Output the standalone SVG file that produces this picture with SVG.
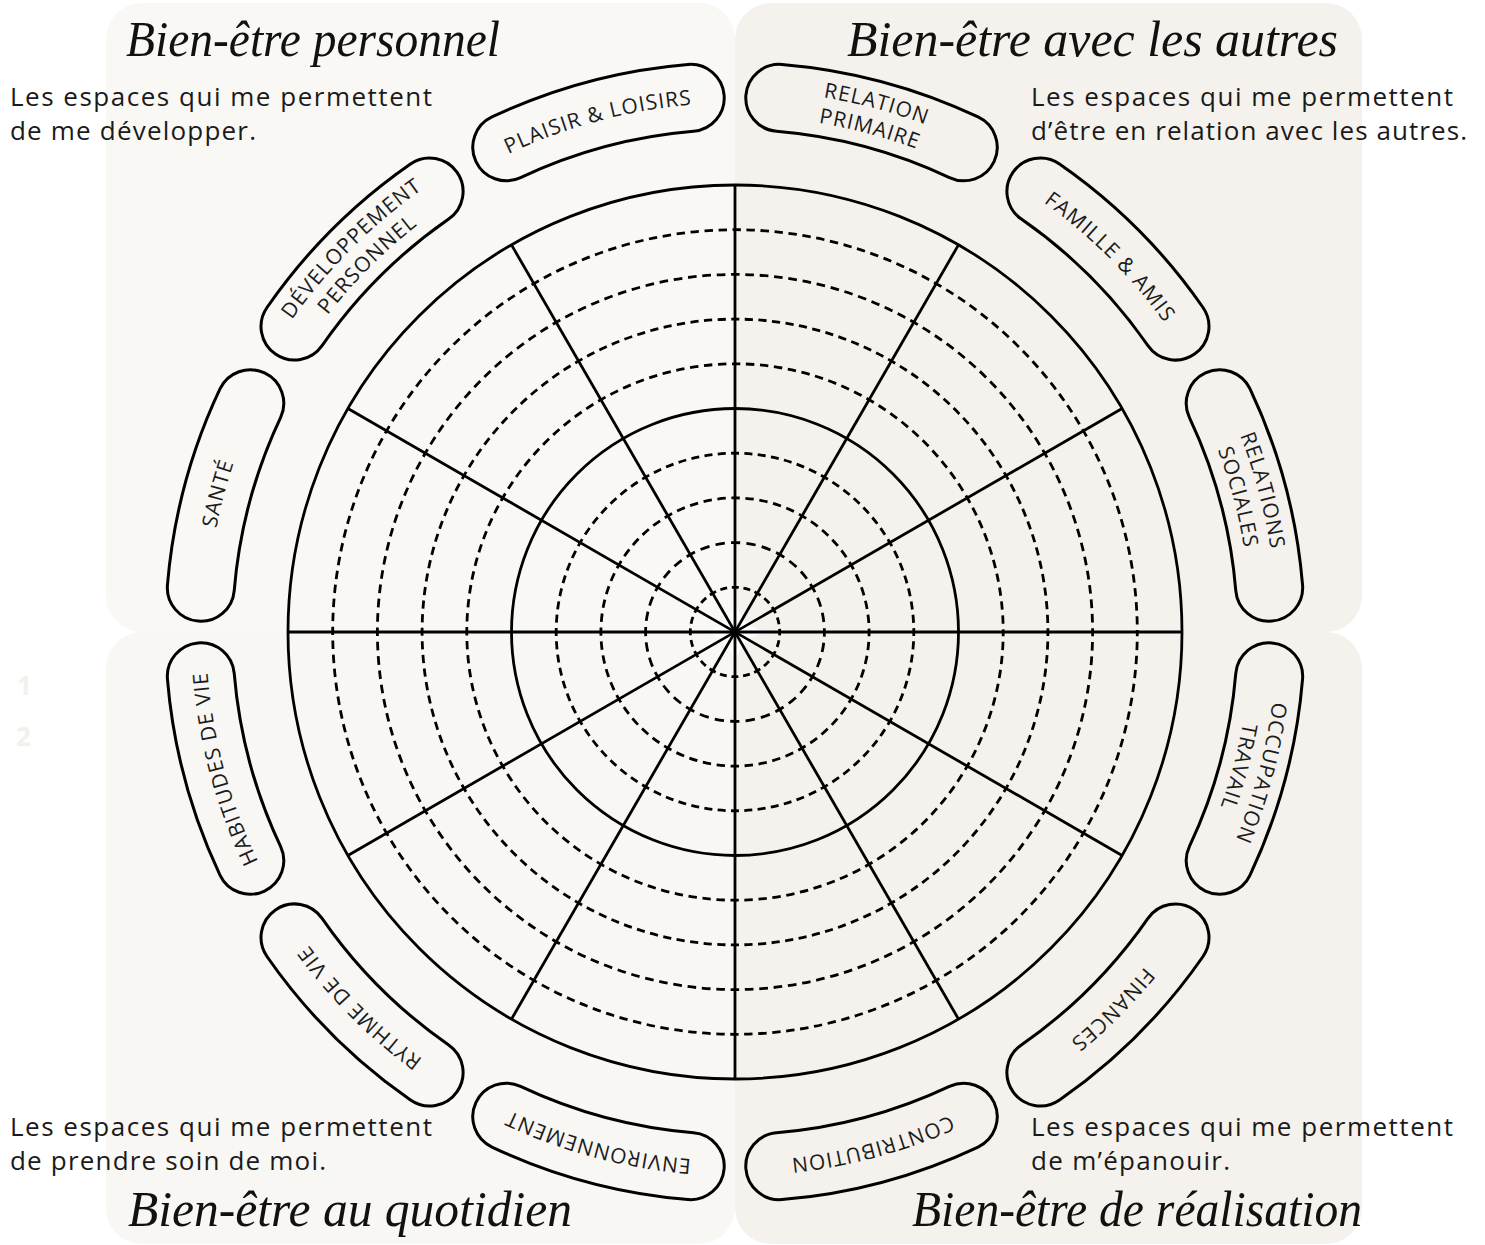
<svg xmlns="http://www.w3.org/2000/svg" xmlns:xlink="http://www.w3.org/1999/xlink" width="1485" height="1245" viewBox="0 0 1485 1245">
<style>
.pill{fill:none;stroke:#000;stroke-width:3}
.pt{font-family:"Open Sans","Liberation Sans",sans-serif;font-size:21px;letter-spacing:1px;fill:#1c1c1c;text-anchor:middle}
.desc{font-family:"Open Sans","Liberation Sans",sans-serif;font-size:26px;fill:#1a1a1a}
.title{font-family:"Liberation Serif","DejaVu Serif",serif;font-style:italic;font-size:50px;fill:#111}
.solid{fill:none;stroke:#000;stroke-width:2.8}
.dash{fill:none;stroke:#000;stroke-width:2.8}
.ghost{font-family:"Open Sans","Liberation Sans",sans-serif;font-weight:700;font-size:26px;fill:#f3f1ec}
</style>
<defs>
<path id="pill" d="M 633.53 71.61 A 569.5 569.5 0 0 1 836.47 71.61 A 33.5 33.5 0 0 1 824.53 137.54 A 502.5 502.5 0 0 0 645.47 137.54 A 33.5 33.5 0 0 1 633.53 71.61 Z"/>
<path id="t1" d="M 470.5 173.87 A 529 529 0 0 1 999.5 173.87"/>
<path id="t2a" d="M 464 162.62 A 542 542 0 0 1 1006 162.62"/>
<path id="t2b" d="M 477 185.13 A 516 516 0 0 1 993 185.13"/>
</defs>
<rect width="1485" height="1245" fill="#ffffff"/>
<g id="backgrounds">
<rect x="106" y="3" width="629" height="629" rx="36" fill="#f9f8f5"/>
<rect x="735" y="3" width="627" height="629" rx="36" fill="#f5f2ed"/>
<rect x="106" y="632" width="629" height="612" rx="36" fill="#f8f7f4"/>
<rect x="735" y="632" width="627" height="612" rx="36" fill="#f5f2ed"/>
</g>
<g id="ghost-numbers">
<text class="ghost" x="17" y="695">1</text>
<text class="ghost" x="16" y="746">2</text>
</g>
<g id="wheel">
<circle class="solid" cx="735" cy="632" r="447"/>
<circle class="solid" cx="735" cy="632" r="223.5"/>
<circle class="dash" cx="735" cy="632" r="44.7" stroke-dasharray="7.02 4.68" stroke-dashoffset="3.51"/>
<circle class="dash" cx="735" cy="632" r="89.4" stroke-dasharray="9.36 6.24" stroke-dashoffset="4.68"/>
<circle class="dash" cx="735" cy="632" r="134.1" stroke-dasharray="8.43 5.62" stroke-dashoffset="4.21"/>
<circle class="dash" cx="735" cy="632" r="178.8" stroke-dasharray="8.02 5.35" stroke-dashoffset="4.01"/>
<circle class="dash" cx="735" cy="632" r="268.2" stroke-dasharray="8.43 5.62" stroke-dashoffset="4.21"/>
<circle class="dash" cx="735" cy="632" r="312.9" stroke-dasharray="8.19 5.46" stroke-dashoffset="4.10"/>
<circle class="dash" cx="735" cy="632" r="357.6" stroke-dasharray="8.64 5.76" stroke-dashoffset="4.32"/>
<circle class="dash" cx="735" cy="632" r="402.3" stroke-dasharray="8.43 5.62" stroke-dashoffset="4.21"/>
<g id="connectors" stroke="#000" stroke-width="2.8">
<line x1="288" y1="632" x2="1182" y2="632"/>
<line x1="735" y1="185" x2="735" y2="1079"/>
<line x1="347.89" y1="408.5" x2="1122.11" y2="855.5"/>
<line x1="511.5" y1="244.89" x2="958.5" y2="1019.11"/>
<line x1="958.5" y1="244.89" x2="511.5" y2="1019.11"/>
<line x1="1122.11" y1="408.5" x2="347.89" y2="855.5"/>
</g>
</g>
<g id="pill-plaisir" transform="rotate(-15 735 632)"><use href="#pill" class="pill"/><text class="pt"><textPath href="#t1" startOffset="50%">PLAISIR &amp; LOISIRS</textPath></text></g>
<g id="pill-relation" transform="rotate(15 735 632)"><use href="#pill" class="pill"/><text class="pt"><textPath href="#t2a" startOffset="50%">RELATION</textPath></text><text class="pt"><textPath href="#t2b" startOffset="50%">PRIMAIRE</textPath></text></g>
<g id="pill-famille" transform="rotate(45 735 632)"><use href="#pill" class="pill"/><text class="pt"><textPath href="#t1" startOffset="50%">FAMILLE &amp; AMIS</textPath></text></g>
<g id="pill-sociales" transform="rotate(75 735 632)"><use href="#pill" class="pill"/><text class="pt"><textPath href="#t2a" startOffset="50%">RELATIONS</textPath></text><text class="pt"><textPath href="#t2b" startOffset="50%">SOCIALES</textPath></text></g>
<g id="pill-occupation" transform="rotate(105 735 632)"><use href="#pill" class="pill"/><text class="pt"><textPath href="#t2a" startOffset="50%">OCCUPATION</textPath></text><text class="pt"><textPath href="#t2b" startOffset="50%">TRAVAIL</textPath></text></g>
<g id="pill-finances" transform="rotate(135 735 632)"><use href="#pill" class="pill"/><text class="pt"><textPath href="#t1" startOffset="50%">FINANCES</textPath></text></g>
<g id="pill-contribution" transform="rotate(165 735 632)"><use href="#pill" class="pill"/><text class="pt"><textPath href="#t1" startOffset="50%">CONTRIBUTION</textPath></text></g>
<g id="pill-environnement" transform="rotate(-165 735 632)"><use href="#pill" class="pill"/><text class="pt"><textPath href="#t1" startOffset="50%">ENVIRONNEMENT</textPath></text></g>
<g id="pill-rythme" transform="rotate(-135 735 632)"><use href="#pill" class="pill"/><text class="pt"><textPath href="#t1" startOffset="50%">RYTHME DE VIE</textPath></text></g>
<g id="pill-habitudes" transform="rotate(-105 735 632)"><use href="#pill" class="pill"/><text class="pt"><textPath href="#t1" startOffset="50%">HABITUDES DE VIE</textPath></text></g>
<g id="pill-sante" transform="rotate(-75 735 632)"><use href="#pill" class="pill"/><text class="pt"><textPath href="#t1" startOffset="50%">SANTÉ</textPath></text></g>
<g id="pill-developpement" transform="rotate(-45 735 632)"><use href="#pill" class="pill"/><text class="pt"><textPath href="#t2a" startOffset="50%">DÉVELOPPEMENT</textPath></text><text class="pt"><textPath href="#t2b" startOffset="50%">PERSONNEL</textPath></text></g>
<g id="title-personnel"><text class="title" x="126" y="56" textLength="374" lengthAdjust="spacingAndGlyphs">Bien-être personnel</text></g>
<g id="title-autres"><text class="title" x="847" y="56" textLength="491" lengthAdjust="spacingAndGlyphs">Bien-être avec les autres</text></g>
<g id="title-quotidien"><text class="title" x="128" y="1226" textLength="444" lengthAdjust="spacingAndGlyphs">Bien-être au quotidien</text></g>
<g id="title-realisation"><text class="title" x="912" y="1226" textLength="450" lengthAdjust="spacingAndGlyphs">Bien-être de réalisation</text></g>
<g id="desc-personnel"><text class="desc" x="10" y="106" textLength="422">Les espaces qui me permettent</text><text class="desc" x="10" y="140" textLength="246">de me développer.</text></g>
<g id="desc-autres"><text class="desc" x="1031" y="106" textLength="422">Les espaces qui me permettent</text><text class="desc" x="1031" y="140" textLength="436">d’être en relation avec les autres.</text></g>
<g id="desc-quotidien"><text class="desc" x="10" y="1136" textLength="422">Les espaces qui me permettent</text><text class="desc" x="10" y="1170" textLength="316">de prendre soin de moi.</text></g>
<g id="desc-realisation"><text class="desc" x="1031" y="1136" textLength="422">Les espaces qui me permettent</text><text class="desc" x="1031" y="1170" textLength="199">de m’épanouir.</text></g>
</svg>
